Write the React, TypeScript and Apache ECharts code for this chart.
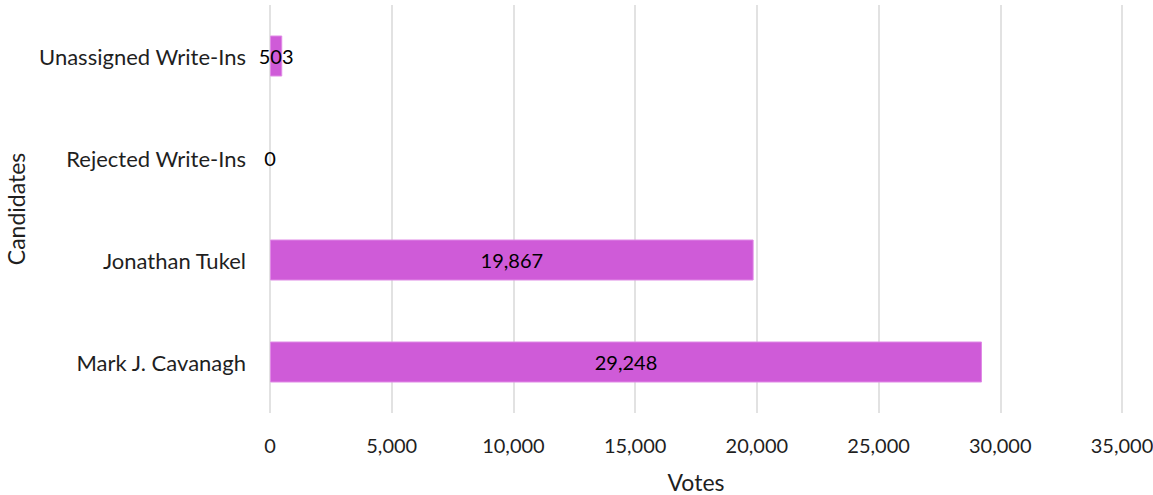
import React, { useEffect, useRef } from "react";
import * as echarts from "echarts";

const categories = ["Mark J. Cavanagh", "Jonathan Tukel", "Rejected Write-Ins", "Unassigned Write-Ins"];
const votes = [29248, 19867, 0, 503];
const xTicks = [0, 5000, 10000, 15000, 20000, 25000, 30000, 35000];

const FONT = "Lato, 'Open Sans', sans-serif";
const TEXT = "#1f1f1f";

export default function App() {
  const ref = useRef<HTMLDivElement>(null);
  useEffect(() => {
    document.body.style.margin = "0";
    const chart = echarts.init(ref.current!, null, { renderer: "svg" });
    chart.setOption({
      animation: false,
      backgroundColor: "#ffffff",
      textStyle: { fontFamily: FONT },
      grid: {
        left: 270,
        right: 31,
        top: 5,
        bottom: 82,
        containLabel: false,
        outerBoundsMode: "none",
      },
      xAxis: {
        type: "value",
        min: xTicks[0],
        max: xTicks[xTicks.length - 1],
        interval: 5000,
        name: "Votes",
        nameLocation: "middle",
        nameGap: 57,
        nameTextStyle: { fontSize: 23, color: TEXT, fontFamily: FONT },
        axisLine: { show: false },
        axisTick: { show: false },
        axisLabel: {
          fontSize: 20,
          color: TEXT,
          margin: 22,
          fontFamily: FONT,
          formatter: (v: number) => v.toLocaleString("en-US"),
        },
        splitLine: { show: true, lineStyle: { color: "#d9d9d9", width: 1.5 } },
      },
      yAxis: {
        type: "category",
        data: categories,
        name: "Candidates",
        nameLocation: "middle",
        nameGap: 243,
        nameRotate: 90,
        nameTextStyle: { fontSize: 23, color: TEXT, fontFamily: FONT },
        axisLine: { show: false },
        axisTick: { show: false },
        axisLabel: { fontSize: 22, color: TEXT, margin: 24, fontFamily: FONT },
        splitLine: { show: false },
      },
      series: [
        {
          type: "bar",
          data: votes.map((v) => ({
            value: v,
            itemStyle: v === 0 ? { borderWidth: 0 } : undefined,
          })),
          barWidth: 41,
          itemStyle: { color: "#cf5bd8", borderColor: "#e08ae6", borderWidth: 1 },
          label: {
            show: true,
            position: "inside",
            color: "#000000",
            fontSize: 20,
            fontFamily: FONT,
            formatter: (p: any) => Number(p.value).toLocaleString("en-US"),
          },
        },
      ],
    });
    return () => chart.dispose();
  }, []);
  return <div ref={ref} style={{ width: 1153, height: 495 }} />;
}
